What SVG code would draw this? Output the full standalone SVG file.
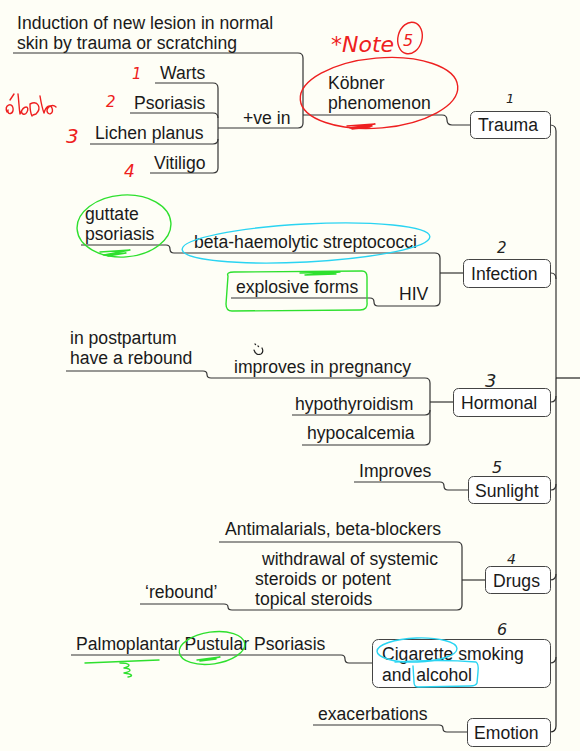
<svg xmlns="http://www.w3.org/2000/svg" width="580" height="751" viewBox="0 0 580 751">
<style>
.t{font-family:"Liberation Sans",Arial,sans-serif;font-size:17.6px;fill:#1a1a1a}
.ln{fill:none;stroke:#333;stroke-width:1.2}
.box{fill:#fff;stroke:#444;stroke-width:1}
.red{fill:none;stroke:#ee2020;stroke-width:1.4;stroke-linecap:round;stroke-linejoin:round}
.grn{fill:none;stroke:#2ee02e;stroke-width:1.4;stroke-linecap:round;stroke-linejoin:round}
.cyn{fill:none;stroke:#2ad4f2;stroke-width:1.4;stroke-linecap:round;stroke-linejoin:round}
.hr{font-family:"DejaVu Sans",sans-serif;font-style:italic;fill:#ee2020}
.hb{font-family:"DejaVu Sans",sans-serif;font-style:italic;fill:#222}
</style>
<rect width="580" height="751" fill="#fefef6"/>

<g id="connectors">
<path class="ln" d="M550,125 Q556,125 556,131 V378" stroke="#666"/>
<path class="ln" d="M556,378 V726 Q556,732 550,732" style="stroke:#222"/>
<path class="ln" d="M556,378 H580" style="stroke:#222"/>
<path class="ln" d="M551,273 Q556,273 556,279"/>
<path class="ln" d="M551,402 Q556,402 556,396"/>
<path class="ln" d="M551,490 Q556,490 556,484"/>
<path class="ln" d="M550,580 Q556,580 556,574"/>
<path class="ln" d="M550,663 Q556,663 556,657"/>
<path class="ln" d="M470,125 H452 Q447,125 447,120 Q447,115 442,115 H303"/>
<path class="ln" d="M13,53 H298 Q303,53 303,58 V123 Q303,128 298,128 H218"/>
<path class="ln" d="M155,83 H213 Q218,83 218,88 V168 Q218,173 213,173 H150"/>
<path class="ln" d="M130,113 H213 Q218,113 218,118"/>
<path class="ln" d="M90,144 H213 Q218,144 218,139"/>
<path class="ln" d="M81,245 H166 Q170,245 170,249 Q170,253 174,253 H435 Q440,253 440,258 V301 Q440,306 435,306 H378 Q374,306 374,302 Q374,298 370,298 H231"/>
<path class="ln" d="M440,273 H463"/>
<path class="ln" d="M66,371 H203 Q207,371 207,374.5 Q207,378 211,378 H425 Q430,378 430,383 V440 Q430,445 425,445 H302"/>
<path class="ln" d="M292,415 H425 Q430,415 430,410"/>
<path class="ln" d="M430,402 H453"/>
<path class="ln" d="M354,482 H440 Q444,482 444,486 Q444,490 448,490 H468"/>
<path class="ln" d="M219,542 H457 Q462,542 462,547 V605 Q462,610 457,610 H232 Q228,610 228,607 Q228,604 224,604 H140"/>
<path class="ln" d="M462,580 H485"/>
<path class="ln" d="M71,655 H341 Q345,655 345,659 Q345,663 349,663 H372"/>
<path class="ln" d="M313,725 H439 Q443,725 443,728.5 Q443,732 447,732 H467"/>
</g>

<g id="trauma"><rect class="box" x="470.5" y="111.5" width="80" height="27" rx="5"/><text class="t" x="478" y="131">Trauma</text></g>
<g id="kobner"><text class="t" x="328" y="89">Köbner</text><text class="t" x="328" y="109">phenomenon</text></g>
<g id="induction"><text class="t" x="17" y="29">Induction of new lesion in normal</text><text class="t" x="17" y="49">skin by trauma or scratching</text></g>
<g id="ve-in"><text class="t" x="243" y="124">+ve in</text></g>
<g id="warts"><text class="t" x="160" y="79">Warts</text></g>
<g id="psoriasis"><text class="t" x="134" y="109">Psoriasis</text></g>
<g id="lichen"><text class="t" x="95" y="139">Lichen planus</text></g>
<g id="vitiligo"><text class="t" x="154" y="169">Vitiligo</text></g>

<g id="infection"><rect class="box" x="463.5" y="259.5" width="87" height="28" rx="5"/><text class="t" x="471" y="280">Infection</text></g>
<g id="beta"><text class="t" x="194" y="248">beta-haemolytic streptococci</text></g>
<g id="guttate"><text class="t" x="85" y="220">guttate</text><text class="t" x="85" y="240">psoriasis</text></g>
<g id="hiv"><text class="t" x="399" y="300">HIV</text></g>
<g id="explosive"><text class="t" x="236" y="293">explosive forms</text></g>

<g id="hormonal"><rect class="box" x="453.5" y="388.5" width="97" height="28" rx="5"/><text class="t" x="461" y="409">Hormonal</text></g>
<g id="pregnancy"><text class="t" x="234" y="373">improves in pregnancy</text></g>
<g id="postpartum"><text class="t" x="70" y="344">in postpartum</text><text class="t" x="70" y="364">have a rebound</text></g>
<g id="hypothyroidism"><text class="t" x="295" y="410">hypothyroidism</text></g>
<g id="hypocalcemia"><text class="t" x="307" y="439">hypocalcemia</text></g>

<g id="sunlight"><rect class="box" x="468.5" y="476.5" width="82" height="27" rx="5"/><text class="t" x="475" y="497">Sunlight</text></g>
<g id="improves"><text class="t" x="359" y="477">Improves</text></g>

<g id="drugs"><rect class="box" x="485.5" y="566.5" width="65" height="27" rx="5"/><text class="t" x="493" y="587">Drugs</text></g>
<g id="antimalarials"><text class="t" x="225" y="535">Antimalarials, beta-blockers</text></g>
<g id="withdrawal"><text class="t" x="262" y="565">withdrawal of systemic</text><text class="t" x="255" y="585">steroids or potent</text><text class="t" x="255" y="605">topical steroids</text></g>
<g id="rebound"><text class="t" x="145" y="598">‘rebound’</text></g>

<g id="cigarette"><rect class="box" x="372.5" y="639.5" width="178" height="48" rx="6"/><text class="t" x="382" y="660">Cigarette smoking</text><text class="t" x="382" y="681">and alcohol</text></g>
<g id="palmoplantar"><text class="t" x="76" y="650">Palmoplantar Pustular Psoriasis</text></g>

<g id="emotion"><rect class="box" x="467.5" y="718.5" width="83" height="28" rx="5"/><text class="t" x="474" y="739">Emotion</text></g>
<g id="exacerbations"><text class="t" x="318" y="720">exacerbations</text></g>

<g id="annotations">
<ellipse class="red" cx="379" cy="93" rx="79" ry="35" transform="rotate(-5 379 93)"/>
<path class="red" d="M347,126 L375,124 L350,128 L372,126 L352,129 L370,127" stroke-width="2.4"/>
<text class="hr" x="331" y="52" font-size="22">*Note</text>
<ellipse class="red" cx="410" cy="38" rx="12" ry="16" transform="rotate(15 410 38)"/>
<text class="hr" x="403" y="46" font-size="16">5</text>
<text class="hr" x="132" y="79" font-size="15">1</text>
<text class="hr" x="106" y="107" font-size="15">2</text>
<text class="hr" x="66" y="143" font-size="20">3</text>
<text class="hr" x="124" y="177" font-size="17">4</text>
<path class="red" d="M7,112 C4,105 12,102 13,108 C14,114 7,116 8,110 M10,100 L14,94 M18,94 C19,102 19,108 20,114 C24,104 30,106 27,112 C25,116 20,114 22,110 M30,104 C30,110 31,114 32,116 M30,104 C38,100 42,108 36,114 L33,115 M40,96 C41,102 42,108 44,113 C46,106 50,104 52,108 C54,114 48,116 47,111 C47,106 53,104 56,107"/>

<ellipse class="grn" cx="124" cy="226" rx="47" ry="31" transform="rotate(-4 124 226)"/>
<path class="grn" d="M100,252 L130,250 L104,255 L126,253 L108,256" stroke-width="2"/>
<path class="grn" d="M228,276 Q226,272 234,272 L362,271 Q367,271 367,277 L367,302 Q368,310 360,310 L232,311 Q226,311 226,304 Z"/>
<path class="grn" d="M300,273 L340,272 L305,275 L336,274" stroke-width="2"/>
<ellipse class="cyn" cx="306" cy="243" rx="124" ry="19" transform="rotate(-3 306 243)"/>
<ellipse class="grn" cx="212" cy="648" rx="33" ry="16" transform="rotate(-8 212 648)"/>
<path class="grn" d="M197,660 L220,657 L200,661 L216,659" stroke-width="2"/>
<path class="grn" d="M85,663 L159,660 M120,663 C130,663 132,666 124,668 C132,669 132,671 124,673 C132,674 134,676 128,677"/>
<ellipse class="cyn" cx="417" cy="650" rx="40" ry="12" transform="rotate(-2 417 650)"/>
<path class="cyn" d="M395,662 Q440,659 476,662 Q479,664 478,672 L477,683 Q476,686 470,686 L418,687 Q414,687 414,682 L413,666"/>

<text class="hb" x="506" y="103" font-size="13">1</text>
<text class="hb" x="497" y="253" font-size="15">2</text>
<text class="hb" x="485" y="387" font-size="18">3</text>
<path d="M255,344 l0.6,0.6 M258,346 l0.6,0.6 M254,350 Q256,356 261,354 Q264,352 262,348" fill="none" stroke="#222" stroke-width="1.2" stroke-linecap="round"/>
<text class="hb" x="492" y="473" font-size="16">5</text>
<text class="hb" x="507" y="564" font-size="14">4</text>
<text class="hb" x="497" y="635" font-size="16">6</text>
</g>
</svg>
